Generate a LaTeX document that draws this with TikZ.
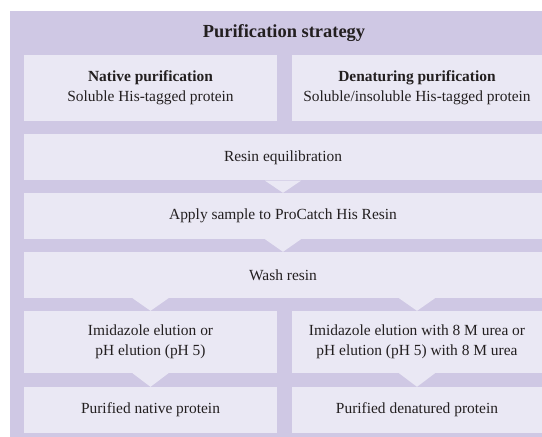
\documentclass[tikz,border=0pt]{standalone}
\usepackage{fontspec}
\setmainfont{Liberation Serif}
\definecolor{band}{RGB}{207,200,228}
\definecolor{boxfill}{RGB}{234,232,244}
\definecolor{ink}{RGB}{35,31,32}
\begin{document}
\begin{tikzpicture}[x=1bp,y=-1bp,
  stepbox/.style={fill=boxfill,draw=none,inner sep=0pt,align=center,text=ink,
    font=\fontsize{15.5}{20}\selectfont},
  wedge/.style={fill=boxfill,draw=none}]
\useasboundingbox (0,0) rectangle (542,437);
\fill[band] (10,11) rectangle (542,437);
\node[text=ink,font=\fontsize{18.5}{22}\selectfont\bfseries] (title) at (284,33) {Purification strategy};
% row 1
\node[stepbox,minimum width=253bp,minimum height=66bp] (native) at (150.5,88) {\textbf{Native purification}\\Soluble His-tagged protein};
\node[stepbox,minimum width=250bp,minimum height=66bp] (denat) at (417,88) {\textbf{Denaturing purification}\\Soluble/insoluble His-tagged protein};
% row 2-4
\node[stepbox,minimum width=518bp,minimum height=46bp] (equil) at (283,157.5) {Resin equilibration};
\node[stepbox,minimum width=518bp,minimum height=46bp] (apply) at (283,216) {Apply sample to ProCatch His Resin};
\node[stepbox,minimum width=518bp,minimum height=46bp] (wash) at (283,275) {Wash resin};
% row 5
\node[stepbox,minimum width=253bp,minimum height=62bp] (elnat) at (150.5,342) {Imidazole elution or\\pH elution (pH 5)};
\node[stepbox,minimum width=250bp,minimum height=62bp] (eldenat) at (417,342) {Imidazole elution with 8 M urea or\\pH elution (pH 5) with 8 M urea};
% row 6
\node[stepbox,minimum width=253bp,minimum height=46bp] (purnat) at (150.5,410) {Purified native protein};
\node[stepbox,minimum width=250bp,minimum height=46bp] (purdenat) at (417,410) {Purified denatured protein};
% wedges (flow connectors)
\fill[wedge] ([xshift=-18bp]equil.south) -- ([xshift=18bp]equil.south) -- (apply.north) -- cycle;
\fill[wedge] ([xshift=-18bp]apply.south) -- ([xshift=18bp]apply.south) -- (wash.north) -- cycle;
\fill[wedge] ([xshift=-18bp]wash.south -| elnat.north) -- ([xshift=18bp]wash.south -| elnat.north) -- (elnat.north) -- cycle;
\fill[wedge] ([xshift=-18bp]wash.south -| eldenat.north) -- ([xshift=18bp]wash.south -| eldenat.north) -- (eldenat.north) -- cycle;
\fill[wedge] ([xshift=-18bp]elnat.south) -- ([xshift=18bp]elnat.south) -- (purnat.north) -- cycle;
\fill[wedge] ([xshift=-18bp]eldenat.south) -- ([xshift=18bp]eldenat.south) -- (purdenat.north) -- cycle;
\end{tikzpicture}
\end{document}
